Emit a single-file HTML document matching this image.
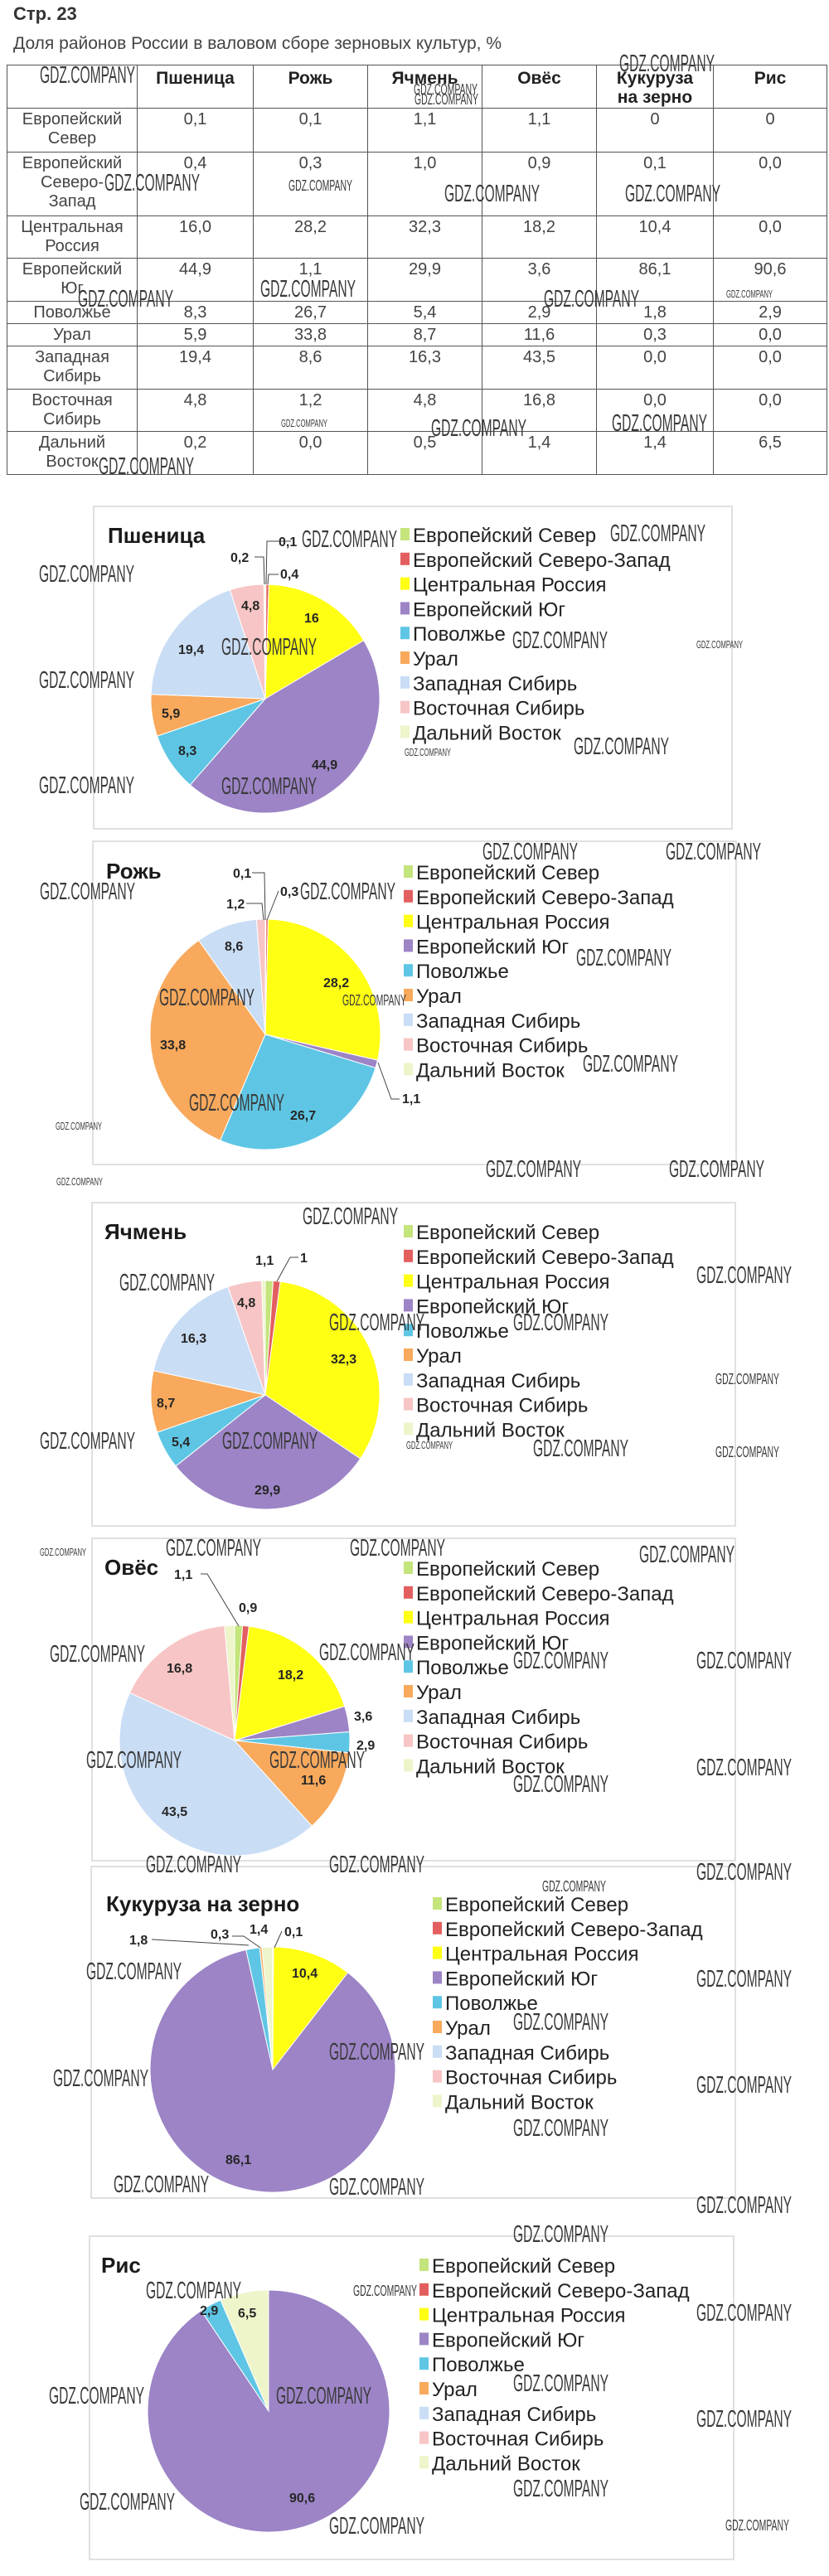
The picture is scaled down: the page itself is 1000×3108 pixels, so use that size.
<!DOCTYPE html>
<html><head><meta charset="utf-8">
<style>
html,body{margin:0;padding:0;background:#fff;}
body{width:1000px;height:3108px;position:relative;overflow:hidden;font-family:"Liberation Sans",sans-serif;color:#333;}
.h1{position:absolute;left:16px;top:4px;font-size:22px;font-weight:bold;color:#333;}
.h2{position:absolute;left:16px;top:41px;font-size:21px;color:#444;}
table{position:absolute;left:8px;top:78px;border-collapse:collapse;table-layout:fixed;font-size:20px;line-height:23px;color:#444;}
td{border:1.5px solid #555;padding:2px 0 0 0;vertical-align:top;text-align:center;overflow:hidden;}
th{border:1.5px solid #555;padding:4px 0 0 0;vertical-align:top;text-align:center;font-weight:bold;color:#222;font-size:21px;}
svg{position:absolute;left:0;top:0;}
</style></head><body>
<div class="h1">Стр. 23</div>
<div class="h2">Доля районов России в валовом сборе зерновых культур, %</div>
<table>
<colgroup><col style="width:157px"><col style="width:140px"><col style="width:138px"><col style="width:138px"><col style="width:138px"><col style="width:141px"><col style="width:137px"></colgroup>
<tr style="height:52px"><th></th><th>Пшеница</th><th>Рожь</th><th>Ячмень</th><th>Овёс</th><th>Кукуруза<br>на зерно</th><th>Рис</th></tr>
<tr style="height:53px"><td>Европейский<br>Север</td><td>0,1</td><td>0,1</td><td>1,1</td><td>1,1</td><td>0</td><td>0</td></tr>
<tr style="height:77px"><td>Европейский<br>Северо-<br>Запад</td><td>0,4</td><td>0,3</td><td>1,0</td><td>0,9</td><td>0,1</td><td>0,0</td></tr>
<tr style="height:51px"><td>Центральная<br>Россия</td><td>16,0</td><td>28,2</td><td>32,3</td><td>18,2</td><td>10,4</td><td>0,0</td></tr>
<tr style="height:52px"><td>Европейский<br>Юг</td><td>44,9</td><td>1,1</td><td>29,9</td><td>3,6</td><td>86,1</td><td>90,6</td></tr>
<tr style="height:27px"><td>Поволжье</td><td>8,3</td><td>26,7</td><td>5,4</td><td>2,9</td><td>1,8</td><td>2,9</td></tr>
<tr style="height:27px"><td>Урал</td><td>5,9</td><td>33,8</td><td>8,7</td><td>11,6</td><td>0,3</td><td>0,0</td></tr>
<tr style="height:52px"><td>Западная<br>Сибирь</td><td>19,4</td><td>8,6</td><td>16,3</td><td>43,5</td><td>0,0</td><td>0,0</td></tr>
<tr style="height:51px"><td>Восточная<br>Сибирь</td><td>4,8</td><td>1,2</td><td>4,8</td><td>16,8</td><td>0,0</td><td>0,0</td></tr>
<tr style="height:52px"><td>Дальний<br>Восток</td><td>0,2</td><td>0,0</td><td>0,5</td><td>1,4</td><td>1,4</td><td>6,5</td></tr>
</table>

<svg id="s" width="1000" height="3108" viewBox="0 0 1000 3108" xmlns="http://www.w3.org/2000/svg">
<g fill="none" stroke="#d6d6d6" stroke-width="1.5">
<rect x="113" y="611" width="770" height="389"/>
<rect x="112" y="1015" width="776" height="390"/>
<rect x="111" y="1451" width="776" height="390"/>
<rect x="111" y="1856" width="776" height="389"/>
<rect x="110" y="2252" width="777" height="400"/>
<rect x="108" y="2698" width="777" height="390"/>
</g>
<g id="pies"></g>
<g font-family="Liberation Sans,sans-serif" font-weight="bold" font-size="26" fill="#1a1a1a">
<text x="130" y="655">Пшеница</text>
<text x="128" y="1060">Рожь</text>
<text x="126" y="1495">Ячмень</text>
<text x="126" y="1900">Овёс</text>
<text x="128" y="2306">Кукуруза на зерно</text>
<text x="122" y="2742">Рис</text>
</g>
<g id="legs" font-family="Liberation Sans,sans-serif" font-size="24" fill="#222"></g>
<g font-family="Liberation Sans,sans-serif" font-weight="bold" font-size="16" fill="#262626">
<text x="336" y="659">0,1</text><text x="278" y="678">0,2</text><text x="338" y="698">0,4</text>
<text x="291" y="736">4,8</text><text x="367" y="751">16</text><text x="215" y="789">19,4</text>
<text x="195" y="866">5,9</text><text x="215" y="911">8,3</text><text x="376" y="928">44,9</text>
<text x="281" y="1059">0,1</text><text x="273" y="1096">1,2</text><text x="338" y="1081">0,3</text>
<text x="271" y="1147">8,6</text><text x="390" y="1191">28,2</text><text x="193" y="1266">33,8</text>
<text x="350" y="1351">26,7</text><text x="485" y="1331">1,1</text>
<text x="308" y="1526">1,1</text><text x="362" y="1523">1</text><text x="286" y="1577">4,8</text>
<text x="218" y="1620">16,3</text><text x="399" y="1645">32,3</text><text x="189" y="1698">8,7</text>
<text x="207" y="1745">5,4</text><text x="307" y="1803">29,9</text>
<text x="210" y="1905">1,1</text><text x="288" y="1945">0,9</text><text x="201" y="2018">16,8</text>
<text x="335" y="2026">18,2</text><text x="427" y="2076">3,6</text><text x="430" y="2111">2,9</text>
<text x="363" y="2153">11,6</text><text x="195" y="2191">43,5</text>
<text x="156" y="2346">1,8</text><text x="254" y="2339">0,3</text><text x="301" y="2333">1,4</text>
<text x="343" y="2336">0,1</text><text x="352" y="2386">10,4</text><text x="272" y="2611">86,1</text>
<text x="241" y="2793">2,9</text><text x="287" y="2796">6,5</text><text x="349" y="3019">90,6</text>
</g>
<g stroke="#444" stroke-width="1" fill="none">
<polyline points="307,672 318,672 319,705"/><polyline points="351,653 322,653 321,705"/><polyline points="336,693 324,693 323,705"/>
<polyline points="304,1053 319,1053 320,1110"/><polyline points="297,1090 316,1090 318,1110"/><polyline points="336,1075 322,1110"/>
<polyline points="482,1326 472,1326 456,1282"/>
<polyline points="360,1517 350,1517 334,1546"/>
<polyline points="242,1899 250,1899 288,1962"/>
<polyline points="183,2340 300,2347"/><polyline points="280,2336 294,2336 314,2350"/><polyline points="340,2330 331,2350"/>
</g>
<g id="wm" font-family="Liberation Sans Narrow,Liberation Sans,sans-serif" fill="#3a3a3a"></g>
</svg>
<script>
var cols=["#c4e47c","#e35f5f","#ffff14","#9c84c6","#5ec6e4","#f8a95c","#c9ddf5","#f7c5c5","#eef5cb"];
var names=["Европейский Север","Европейский Северо-Запад","Центральная Россия","Европейский Юг","Поволжье","Урал","Западная Сибирь","Восточная Сибирь","Дальний Восток"];
var charts=[
 [320,843,138,[0.1,0.4,16.0,44.9,8.3,5.9,19.4,4.8,0.2],483,645],
 [320,1248,139,[0.1,0.3,28.2,1.1,26.7,33.8,8.6,1.2,0.0],487,1052],
 [320,1683,138,[1.1,1.0,32.3,29.9,5.4,8.7,16.3,4.8,0.5],487,1486],
 [283,2100,139,[1.1,0.9,18.2,3.6,2.9,11.6,43.5,16.8,1.4],487,1892],
 [329,2497,148,[0,0.1,10.4,86.1,1.8,0.3,0,0,1.4],522,2297],
 [324,2909,146,[0,0,0,90.6,2.9,0,0,0,6.5],506,2733]
];
var NS="http://www.w3.org/2000/svg";
var pies=document.getElementById("pies"),legs=document.getElementById("legs");
function el(n,a,p){var e=document.createElementNS(NS,n);for(var k in a)e.setAttribute(k,a[k]);p.appendChild(e);return e;}
charts.forEach(function(c){
 var cx=c[0],cy=c[1],r=c[2],v=c[3],s=0;v.forEach(function(x){s+=x;});
 var a=-Math.PI/2;
 v.forEach(function(x,i){
  if(x<=0)return;
  var b=a+x/s*2*Math.PI;
  var x1=cx+r*Math.cos(a),y1=cy+r*Math.sin(a),x2=cx+r*Math.cos(b),y2=cy+r*Math.sin(b);
  el("path",{d:"M"+cx+","+cy+" L"+x1.toFixed(2)+","+y1.toFixed(2)+" A"+r+","+r+" 0 "+((b-a)>Math.PI?1:0)+" 1 "+x2.toFixed(2)+","+y2.toFixed(2)+" Z",fill:cols[i],stroke:"#fff","stroke-width":"1"},pies);
  a=b;
 });
 for(var i=0;i<9;i++){
  var y=c[5]+i*29.8;
  el("rect",{x:c[4],y:y-8,width:11,height:15,fill:cols[i]},legs);
  var t=el("text",{x:c[4]+15,y:y+9},legs);t.textContent=names[i];
 }
});
var wm=[[48,100,1],[500,126,2],[499,114,2],[747,86,1],[126,230,1],[348,230,2],[536,243,1],[754,243,1],[314,358,1],[94,370,1],[656,370,1],[876,359,3],[339,515,3],[520,526,1],[738,520,1],[119,572,1],
[364,660,1],[736,653,1],[47,702,1],[267,790,1],[618,782,1],[840,782,3],[47,830,1],[47,957,1],[267,958,1],[488,912,3],[692,910,1],
[582,1037,1],[803,1037,1],[48,1085,1],[362,1085,1],[695,1165,1],[192,1213,1],[413,1213,2],[703,1293,1],[228,1340,1],[67,1363,3],[586,1420,1],[807,1420,1],
[68,1430,3],[365,1477,1],[144,1557,1],[840,1548,1],[397,1605,1],[619,1605,1],[863,1670,2],[48,1748,1],[268,1748,1],[490,1748,3],[643,1757,1],[863,1758,2],
[48,1877,3],[200,1877,1],[422,1877,1],[771,1885,1],[60,2005,1],[385,2003,1],[619,2013,1],[840,2013,1],[104,2133,1],[325,2133,1],[619,2162,1],[840,2142,1],[176,2259,1],[397,2259,1],
[840,2268,1],[654,2282,2],[104,2388,1],[840,2397,1],[619,2449,1],[397,2485,1],[64,2517,1],[840,2525,1],[619,2577,1],[137,2645,1],[397,2648,1],[840,2670,1],
[619,2705,1],[176,2773,1],[426,2770,2],[840,2800,1],[619,2885,1],[59,2900,1],[333,2900,1],[840,2928,1],[619,3012,1],[96,3028,1],[397,3057,1],[875,3053,2]];
var wmg=document.getElementById("wm");
wm.forEach(function(w){
 var sz=w[2]==1?[29,115]:w[2]==2?[18,77]:[13,56];
 var t=el("text",{x:w[0],y:w[1],"font-size":sz[0],textLength:sz[1],lengthAdjust:"spacingAndGlyphs"},wmg);
 t.textContent="GDZ.COMPANY";
});
</script>
</body></html>
